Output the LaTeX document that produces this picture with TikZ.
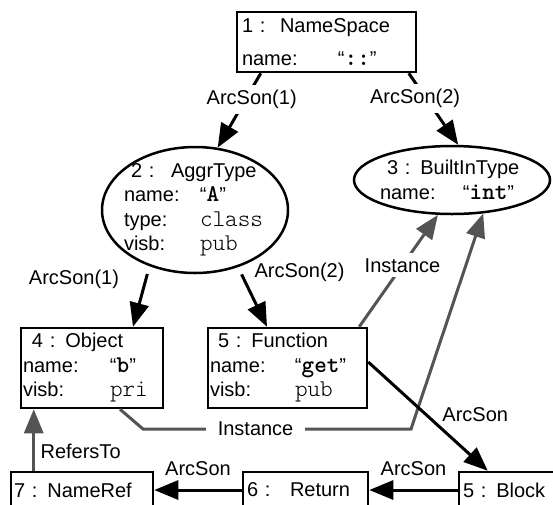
\documentclass[tikz,border=0pt]{standalone}
\usepackage{fontspec}
\setmainfont{Liberation Sans}
\setmonofont{Latin Modern Mono Light}
\usetikzlibrary{arrows.meta}
\usetikzlibrary{positioning,shapes.geometric,calc}
\definecolor{instGray}{gray}{0.33}
\newcommand{\kv}[3]{\makebox[#1][l]{#2}#3}
\newcommand{\sval}[1]{“{\fontsize{24pt}{24.5pt}\selectfont\ttfamily\bfseries #1}”}
\newcommand{\tval}[1]{{\fontsize{24pt}{24.5pt}\selectfont\ttfamily #1}}
\tikzset{every node/.style={font=\fontsize{20pt}{24.5pt}\selectfont},
		objBox/.style={rectangle,draw,line width=2.5pt,align=left,inner ysep=2pt},
		objEll/.style={ellipse,draw,line width=2.5pt,inner sep=0pt},
		ellText/.style={align=left,inner sep=0pt},
		arcEdge/.style={-{Triangle[length=24pt,width=19pt]},line width=3pt},
		instEdge/.style={arcEdge,draw=instGray},
		edgeLabel/.style={fill=white,inner xsep=3pt,inner ysep=5pt}}

\begin{document}
\begin{tikzpicture}[x=1pt,y=1pt]
	\useasboundingbox (0,0) rectangle (553,-504);
	\node [objBox, minimum width=179pt, minimum height=60pt, text width=169pt, inner xsep=5pt] (ns) at (326.5,-42)
		{\makebox[38pt][l]{1 :}NameSpace\\[8pt]\kv{96pt}{name:}{\sval{::}}};
	\node [objEll, minimum width=186pt, minimum height=126pt,
		label={[ellText,text width=142pt]center:{\hspace*{7pt}\makebox[40pt][l]{2 :}AggrType\\
		\kv{76pt}{name:}{\sval{A}}\\\kv{76pt}{type:}{\tval{class}}\\\kv{76pt}{visb:}{\tval{pub}}}}] (aggr) at (195,-210) {};
	\node [objEll, minimum width=196pt, minimum height=68pt,
		label={[ellText,text width=150pt,xshift=3pt]center:{\hspace*{7pt}\mbox{3 : BuiltInType}\\
		\kv{83pt}{name:}{\sval{int}}}}] (bit) at (452,-180) {};
	\node [objBox, minimum width=142pt, minimum height=80pt, text width=138pt, inner xsep=2pt] (obj) at (92,-368)
		{\hspace*{9pt}4 : Object\\\kv{87pt}{name:}{\sval{b}}\\\kv{87pt}{visb:}{\tval{pri}}};
	\node [objBox, minimum width=159pt, minimum height=80pt, text width=155pt, inner xsep=2pt] (fun) at (287.5,-368)
		{\hspace*{8pt}5 : Function\\\kv{85pt}{name:}{\sval{get}}\\\kv{85pt}{visb:}{\tval{pub}}};
	\node [objBox, minimum width=142pt, minimum height=36pt, text width=136pt, inner xsep=3pt] (nref) at (82,-490) {7 : NameRef};
	\node [objBox, minimum width=125pt, minimum height=36pt, text width=117pt, inner xsep=4pt] (ret) at (305.5,-490) {\makebox[43pt][l]{6 :}Return};
	\node [objBox, minimum width=100pt, minimum height=36pt, text width=92pt, inner xsep=4pt] (blk) at (509,-490) {5 : Block};
	\coordinate (ic1) at (143,-429);
	\coordinate (ic2) at (411,-429);
	%edges
	\draw[arcEdge] ([xshift=25pt]ns.south west) -- node[edgeLabel,pos=.35,xshift=6pt]{ArcSon(1)} (aggr.70);
	\draw[arcEdge] ([xshift=173pt]ns.south west) -- node[edgeLabel,pos=.35,xshift=-11pt]{ArcSon(2)} (bit.80);
	\draw[arcEdge, shorten <=8pt] (aggr.231) -- node[pos=.22,left=22pt]{ArcSon(1)} ([xshift=41pt]obj.north);
	\draw[arcEdge, shorten <=8pt] (aggr.-53) -- node[pos=.09,right=9pt]{ArcSon(2)} ([xshift=-20.5pt]fun.north);
	\draw[instEdge] ([xshift=-9pt]fun.north east) -- node[edgeLabel,pos=.55]{Instance} (bit.248);
	\draw[instEdge] ([xshift=28pt]obj.south) -- (ic1) -- node[edgeLabel,pos=.42,inner xsep=12pt]{Instance} (ic2) -- (bit.-47);
	\draw[arcEdge] ([yshift=6pt]fun.east) -- node[pos=.48,right=12pt]{ArcSon} ([xshift=30pt]blk.north west);
	\draw[arcEdge] (blk) -- node[above=9pt]{ArcSon} (ret);
	\draw[arcEdge] (ret) -- node[above=9pt]{ArcSon} (nref);
	\draw[instEdge] ([xshift=24pt]nref.north west) -- node[pos=.31,right=2pt]{RefersTo} ([xshift=14pt]obj.south west);
\end{tikzpicture}
\end{document}
